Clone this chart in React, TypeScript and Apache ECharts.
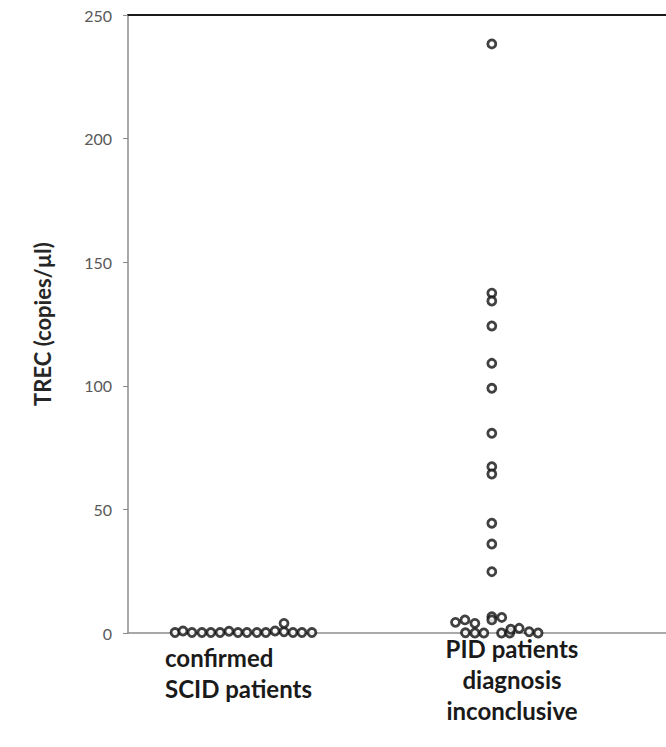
import React, { useEffect, useRef } from "react";
import * as echarts from "echarts";

const categories = ["confirmed\nSCID patients", "PID patients\ndiagnosis\ninconclusive"];
const yTicks = [0, 50, 100, 150, 200, 250];

// confirmed SCID patients: horizontal jitter offset (category units) and TREC value
const scidOffsets = [-0.273, -0.241, -0.205, -0.165, -0.129, -0.092, -0.056, -0.02, 0.016, 0.056, 0.092, 0.129, 0.165, 0.165, 0.201, 0.237, 0.277];
const scidValues = [0.2, 0.8, 0.2, 0.2, 0.2, 0.2, 0.7, 0.2, 0.2, 0.2, 0.2, 0.8, 0.5, 3.9, 0.2, 0.2, 0.2];

// PID patients, diagnosis inconclusive
const pidOffsets = [
  0, 0, 0, 0, 0, 0, 0, 0, 0, 0, 0, 0,
  -0.146, -0.108, -0.068, -0.106, -0.068, -0.032, 0, 0, 0.04, 0.039, 0.072, 0.076, 0.11, 0.15, 0.186,
];
const pidValues = [
  238.3, 137.5, 134.3, 124.2, 109.1, 99.0, 80.8, 67.3, 64.3, 44.4, 36.0, 24.8,
  4.3, 5.3, 3.9, 0.1, 0, 0, 6.6, 5.3, 6.3, 0, 0, 1.5, 1.9, 0.5, 0,
];

export default function App() {
  const ref = useRef<HTMLDivElement>(null);
  useEffect(() => {
    if (!ref.current) return;
    const chart = echarts.init(ref.current, null, { renderer: "svg" });
    const markerStyle = { color: "#ffffff", borderColor: "#111111", borderWidth: 2.8 };
    const labelFont = { fontFamily: "Lato", fontWeight: "bold", fontSize: 24, fill: "#1a1a1a", lineHeight: 31 } as any;
    chart.setOption({
      animation: false,
      backgroundColor: "#ffffff",
      grid: { left: 128, right: 0, top: 15, bottom: 114 },
      xAxis: [
        {
          type: "value",
          min: 0.538,
          max: 2.7,
          position: "bottom",
          axisLine: { show: true, onZero: false, lineStyle: { color: "#8c8c8c", width: 1.5 } },
          axisTick: { show: false },
          axisLabel: { show: false },
          splitLine: { show: false },
        },
        {
          type: "value",
          min: 0.538,
          max: 2.7,
          position: "top",
          axisLine: { show: true, onZero: false, lineStyle: { color: "#1a1a1a", width: 2 } },
          axisTick: { show: false },
          axisLabel: { show: false },
          splitLine: { show: false },
        },
      ],
      yAxis: {
        type: "value",
        min: yTicks[0],
        max: yTicks[yTicks.length - 1],
        interval: 50,
        name: "TREC (copies/µl)",
        nameLocation: "middle",
        nameRotate: 90,
        nameGap: 75,
        nameTextStyle: { fontFamily: "Lato", fontWeight: "bold", fontSize: 22, color: "#262626" },
        axisLine: { show: true, lineStyle: { color: "#8c8c8c", width: 1.5 } },
        axisTick: { show: true, length: 5, lineStyle: { color: "#8c8c8c" } },
        axisLabel: { fontFamily: "Lato", fontSize: 16, color: "#595959", margin: 16 },
        splitLine: { show: false },
      },
      series: [
        {
          type: "scatter",
          symbol: "circle",
          symbolSize: 8,
          itemStyle: markerStyle,
          data: scidValues.map((v, i) => [1 + scidOffsets[i], v]),
        },
        {
          type: "scatter",
          symbol: "circle",
          symbolSize: 8,
          itemStyle: markerStyle,
          data: pidValues.map((v, i) => [2 + pidOffsets[i], v]),
        },
      ],
      graphic: [
        {
          type: "text",
          left: 165,
          top: 642,
          style: { ...labelFont, text: categories[0], align: "left" },
        },
        {
          type: "text",
          x: 512,
          y: 633,
          style: { ...labelFont, text: categories[1], align: "center" },
        },
      ],
    });
    return () => chart.dispose();
  }, []);
  return <div ref={ref} style={{ position: "absolute", left: 0, top: 0, width: 666, height: 747 }} />;
}
